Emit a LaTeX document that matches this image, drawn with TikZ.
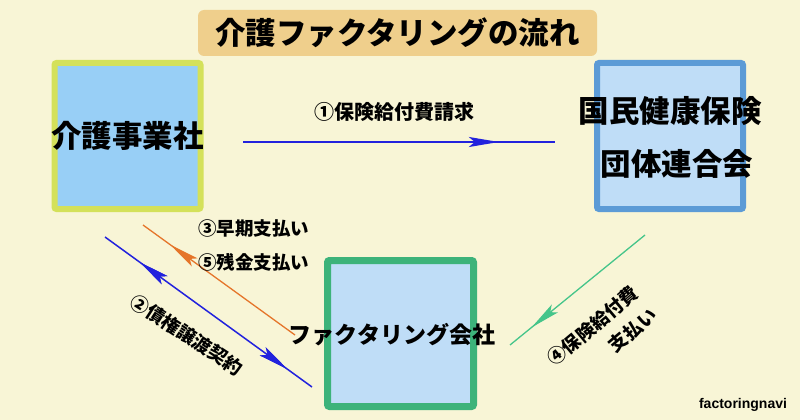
\documentclass[tikz,border=0pt]{standalone}
\usepackage{fontspec}
\setmainfont{Noto Sans CJK JP}[BoldFont=* Black]
\newfontfamily\navifont{Liberation Sans}
\usetikzlibrary{arrows.meta, decorations.markings}

\definecolor{bgcream}{HTML}{F8F5D6}
\definecolor{titletan}{HTML}{EFCF8C}
\definecolor{jigyoline}{HTML}{D4E15A}
\definecolor{jigyofill}{HTML}{98CFF6}
\definecolor{kokuholine}{HTML}{5C9BD6}
\definecolor{factorline}{HTML}{3DB37A}
\definecolor{pfill}{HTML}{BFDDF7}
\definecolor{flowblue}{HTML}{2222DD}
\definecolor{floworange}{HTML}{E5752A}
\definecolor{flowgreen}{HTML}{45C58A}

\tikzset{
    box/.style={draw, line width=6pt, rounded corners=2pt, minimum size=146pt, inner sep=0pt},
    bigtext/.style={font=\fontsize{30.5}{53}\selectfont\bfseries, align=center, inner sep=0pt},
    flowtext/.style={font=\fontsize{18.5}{29}\selectfont\bfseries, inner sep=0pt},
    tipat/.style={postaction={decorate}, decoration={markings,
        mark=at position #1 with {\arrow{Stealth[length=30pt, width=10pt, inset=6pt]}}}},
    tipback/.style={postaction={decorate}, decoration={markings,
        mark=at position #1 with {\arrowreversed{Stealth[length=30pt, width=10pt, inset=6pt]}}}},
}

\begin{document}
\begin{tikzpicture}[x=1pt, y=-1pt]
    \fill[bgcream] (0,0) rectangle (800,420);
    \useasboundingbox (0,0) rectangle (800,420);

    % title
    \node[fill=titletan, rounded corners=6pt, minimum width=399pt, minimum height=46pt,
          font=\fontsize{30.5}{30}\selectfont\bfseries] (title) at (397.5,33) {介護ファクタリングの流れ};

    % boxes
    \node[box, draw=jigyoline, fill=jigyofill] (J) at (127.5,136) {};
    \node[box, draw=kokuholine, fill=pfill] (K) at (670,136) {};
    \node[box, draw=factorline, fill=pfill, line width=7pt] (F) at (400.5,333.5) {};

    \node[bigtext] (Jtext) at (J.center) {介護事業社};
    \node[bigtext] (Ktext) at (670,137) {国民健康保険\\\hspace*{14pt}団体連合会};
    \node[bigtext, font=\fontsize{23}{23}\selectfont\bfseries] (Ftext) at (392,335) {ファクタリング会社};

    % arrow ends
    \coordinate (reqS) at (243,142);
    \coordinate (reqE) at (555,142);
    \coordinate (payS) at (295,335);
    \coordinate (payE) at (143,225);
    \coordinate (conS) at (105,237);
    \coordinate (conE) at (312,387);
    \coordinate (kokS) at (645,235);
    \coordinate (kokE) at (510,345);

    \draw[flowblue, line width=2pt, tipat=0.82] (reqS) -- (reqE);
    \draw[floworange, line width=1.3pt, tipat=0.82] (payS) -- (payE);
    \draw[flowblue, line width=1.5pt, tipback=0.17, tipat=0.88] (conS) -- (conE);
    \draw[flowgreen, line width=1.3pt, tipat=0.84] (kokS) -- (kokE);

    % labels
    \node[flowtext, font=\fontsize{20}{20}\selectfont\bfseries] (reqL) at (394,112) {①保険給付費請求};
    \node[flowtext, anchor=west] (earlyL) at (198,228) {③早期支払い};
    \node[flowtext, anchor=west] (restL) at (198,262) {⑤残金支払い};
    \node[flowtext, rotate=-33] (conL) at (187,335) {②債権譲渡契約};
    \node[flowtext, rotate=40, align=right] (kokL) at (602,337) {④保険給付費\\支払い};

    \node[font=\navifont\fontsize{14}{14}\selectfont\bfseries] (navi) at (743,405) {factoringnavi};
\end{tikzpicture}
\end{document}
